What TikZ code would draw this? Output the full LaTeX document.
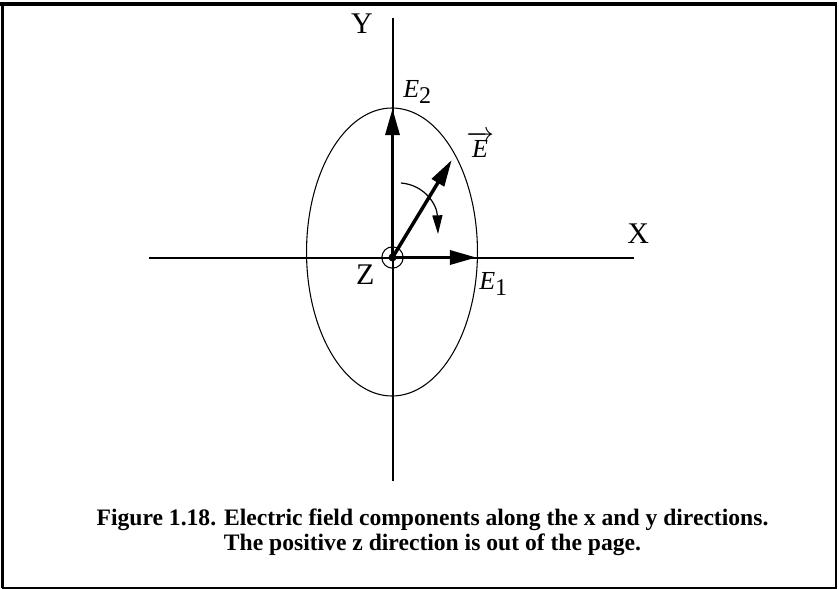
\documentclass[tikz,border=0pt]{standalone}
\usepackage{fontspec}
\setmainfont{Liberation Serif}
\usepackage{tikz}
\usetikzlibrary{arrows.meta, positioning, calc}

\begin{document}
\begin{tikzpicture}[
  x=0.75pt, y=-0.75pt,
  axis/.style={line width=1.5pt},
  comp/.style={-{Triangle[length=20pt, width=10.5pt]}, line width=2.6pt},
  turn/.style={-{Triangle[length=14pt, width=7.5pt]}, line width=0.9pt},
  axlabel/.style={font=\fontsize{22.5pt}{27pt}\selectfont, inner sep=0pt},
  elabel/.style={font=\fontsize{19.5pt}{23pt}\selectfont\itshape, inner sep=0pt},
  caption/.style={font=\fontsize{17.7pt}{18.5pt}\selectfont\bfseries, align=center, inner sep=0pt}
]
  \useasboundingbox (0,0) rectangle (839,589);

  % Frame
  \draw[line width=1.5pt] (2.5,3.7) rectangle (836.3,587.7);
  \draw[line width=3pt] (0,3.7) -- (837,3.7);
  \draw[line width=2.4pt] (2.5,2) -- (2.5,588);

  % Points
  \coordinate (O) at (392.5,257.5);
  \coordinate (xl) at (149,257.5);
  \coordinate (xr) at (634,257.5);
  \coordinate (yt) at (392.5,18);
  \coordinate (yb) at (392.5,481);
  \coordinate (e1) at (476.5,257.5);
  \coordinate (e2) at (392.5,108.5);
  \coordinate (ev) at (451.7,160);
  \coordinate (rs) at (401,183);
  \coordinate (re) at (438,234);

  % Axes and ellipse
  \draw[axis] (xl) -- (xr);
  \draw[axis] (yt) -- (yb);
  \draw[line width=0.8pt] (392,252) ellipse [x radius=64.1pt, y radius=108pt];

  % Field components
  \draw[comp] (O) -- (e2);
  \draw[comp] (O) -- (e1);
  \draw[comp] (O) -- (ev);
  \draw[turn] (rs) .. controls (425,185) and (437,205) .. (re);

  % z axis out of the page
  \fill (O) circle (3pt);
  \draw[line width=0.8pt] (O) circle (8pt);

  % Labels
  \node[axlabel, anchor=base] (ylab) at (362,33.3) {Y};
  \node[axlabel, anchor=base] (xlab) at (638.3,243.3) {X};
  \node[axlabel, anchor=base] (zlab) at (365.3,284) {Z};
  \node[elabel, anchor=base west] (e2lab) at (403,97)
    {E{\fontsize{18pt}{18pt}\selectfont\upshape\raisebox{-5pt}{2}}};
  \node[elabel, anchor=base west] (e1lab) at (479,289)
    {E{\fontsize{18pt}{18pt}\selectfont\upshape\raisebox{-5pt}{1}}};
  \node[elabel, anchor=base west] (evlab) at (466,157.5)
    {$\overrightarrow{\mbox{\itshape E}}$};

  % Caption
  \node[caption, anchor=north] (cap) at (432.5,509)
    {Figure 1.18. Electric field components along the x and y directions.\\
     The positive z direction is out of the page.};
\end{tikzpicture}
\end{document}
